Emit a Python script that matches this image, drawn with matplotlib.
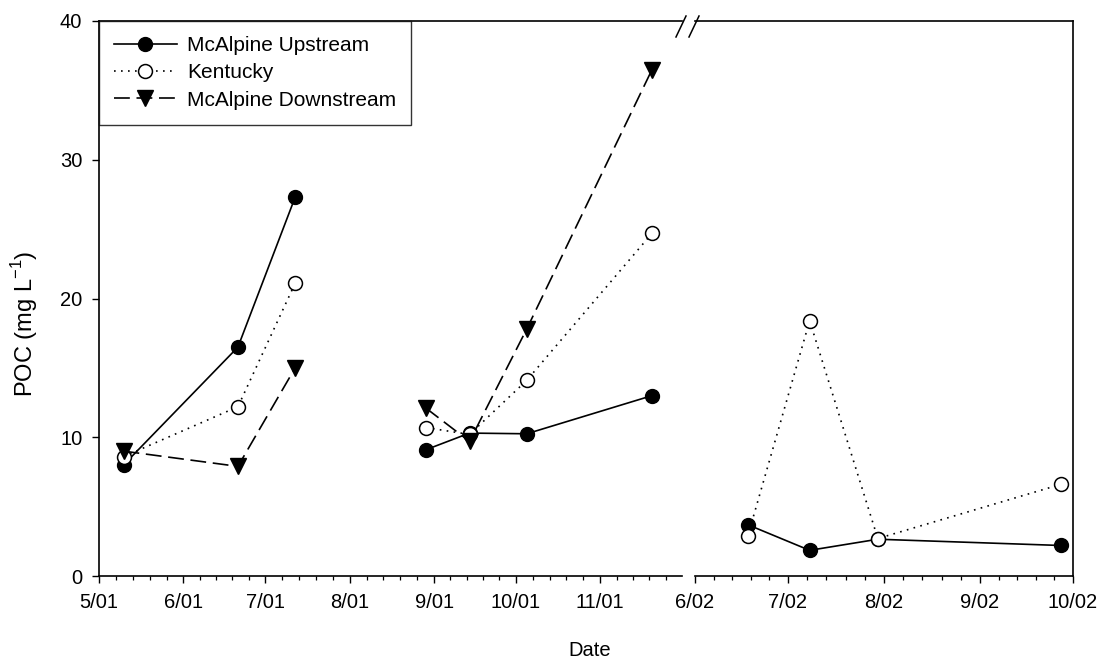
import matplotlib
matplotlib.use("Agg")
import matplotlib.pyplot as plt
import matplotlib.dates as mdates
from matplotlib.lines import Line2D
from matplotlib.ticker import FixedLocator, FuncFormatter
import numpy as np

plt.rcParams['font.family'] = ['Liberation Sans', 'DejaVu Sans']
plt.rcParams['mathtext.fontset'] = 'custom'
plt.rcParams['mathtext.rm'] = 'Liberation Sans'

# Sampling campaigns (POC, mg/L)
dates_spring01 = ['2001-05-10', '2001-06-21', '2001-07-12']
upstream_spring01 = [8.0, 16.5, 27.3]
kentucky_spring01 = [8.6, 12.2, 21.1]
downstream_spring01 = [9.0, 7.9, 15.0]

dates_fall01 = ['2001-08-29', '2001-09-14', '2001-10-05', '2001-11-20']
upstream_fall01 = [9.1, 10.3, 10.25, 13.0]
kentucky_fall01 = [10.7, 10.2, 14.1, 24.7]
downstream_fall01 = [12.1, 9.7, 17.8, 36.5]

dates_summer02 = ['2002-06-18', '2002-07-08', '2002-07-30', '2002-09-27']
upstream_summer02 = [3.7, 1.85, 2.65, 2.2]
kentucky_summer02 = [2.85, 18.4, 2.7, 6.6]

months_2001 = ['2001-05-01', '2001-06-01', '2001-07-01', '2001-08-01',
               '2001-09-01', '2001-10-01', '2001-11-01', '2001-12-01']
months_2002 = ['2002-06-01', '2002-07-01', '2002-08-01', '2002-09-01', '2002-10-01']

series_names = ['McAlpine Upstream', 'Kentucky', 'McAlpine Downstream']
y_ticks = [0, 10, 20, 30, 40]


def to_num(ds):
    return mdates.datestr2num(ds)


W, H = 1098, 667
fig = plt.figure(figsize=(W / 100, H / 100), dpi=100)

left1, right1 = 99, 682
left2, right2 = 695, 1073
top, bottom = 21, 576


def rect(l, r):
    return [l / W, 1 - bottom / H, (r - l) / W, (bottom - top) / H]


ax1 = fig.add_axes(rect(left1, right1))
ax2 = fig.add_axes(rect(left2, right2), sharey=ax1)

styles = {
    'McAlpine Upstream': dict(color='black', lw=1.2, ls='-', marker='o', ms=10,
                              mfc='black', mec='black'),
    'Kentucky': dict(color='black', lw=1.2, ls=(0, (1, 3.2)), marker='o', ms=10,
                     mfc='white', mec='black', mew=1.1),
    'McAlpine Downstream': dict(color='black', lw=1.2, ls=(0, (9.5, 4)), marker='v',
                                ms=11.5, mfc='black', mec='black'),
}

handles = []
for name, v in zip(series_names, [upstream_spring01, kentucky_spring01, downstream_spring01]):
    h, = ax1.plot(to_num(dates_spring01), v, label=name, **styles[name])
    handles.append(h)

for name, v in zip(series_names, [upstream_fall01, kentucky_fall01, downstream_fall01]):
    ax1.plot(to_num(dates_fall01), v, **styles[name])

for name, v in zip(series_names[:2], [upstream_summer02, kentucky_summer02]):
    ax2.plot(to_num(dates_summer02), v, **styles[name])


def month_label(x, pos):
    d = mdates.num2date(x)
    return f"{d.month}/{d:%y}"


def minor_positions(month_nums, n=4):
    out = []
    for a, b in zip(month_nums[:-1], month_nums[1:]):
        out.extend(np.linspace(a, b, n + 2)[1:-1])
    return out


m01 = to_num(months_2001)
m02 = to_num(months_2002)

ax1.set_xlim(m01[0], m01[-1])
ax2.set_xlim(m02[0], m02[-1])
ax1.set_ylim(0, 40)

ax1.xaxis.set_major_locator(FixedLocator(m01[:-1]))
ax1.xaxis.set_minor_locator(FixedLocator(minor_positions(m01)))
ax2.xaxis.set_major_locator(FixedLocator(m02))
ax2.xaxis.set_minor_locator(FixedLocator(minor_positions(m02)))
for ax in (ax1, ax2):
    ax.xaxis.set_major_formatter(FuncFormatter(month_label))
    ax.tick_params(axis='both', which='major', direction='out', length=5, width=1,
                   labelsize=14.5, pad=7, colors='black')
    ax.tick_params(axis='x', which='minor', direction='out', length=3, width=0.9)
    for sp in ax.spines.values():
        sp.set_linewidth(1.2)

ax1.yaxis.set_major_locator(FixedLocator(y_ticks))
ax1.spines['right'].set_visible(False)
ax2.spines['left'].set_visible(False)
ax2.tick_params(axis='y', which='both', left=False, labelleft=False)

fig.text(25 / W, 1 - 324 / H, r'POC (mg L$^{\mathregular{-1}}$)', rotation=90,
         ha='center', va='center', fontsize=17)
fig.text(590 / W, 1 - 651 / H, 'Date', ha='center', va='center', fontsize=14.5)

# Axis break marks on the top edge
for xc in (681, 694):
    x0, y0 = (xc - 5) / W, 1 - 37 / H
    x1, y1 = (xc + 5) / W, 1 - 16 / H
    fig.add_artist(Line2D([x0, x1], [y0, y1], color='black', lw=1.1))

leg = ax1.legend(handles=handles, loc='upper left', bbox_to_anchor=(0, 1),
                 borderaxespad=0, fontsize=15, frameon=True, fancybox=False,
                 edgecolor='black', handlelength=3.0, handletextpad=0.5,
                 labelspacing=0.4, borderpad=0.72, numpoints=1)
leg.get_frame().set_linewidth(1.0)

fig.savefig('out.png', dpi=100)
